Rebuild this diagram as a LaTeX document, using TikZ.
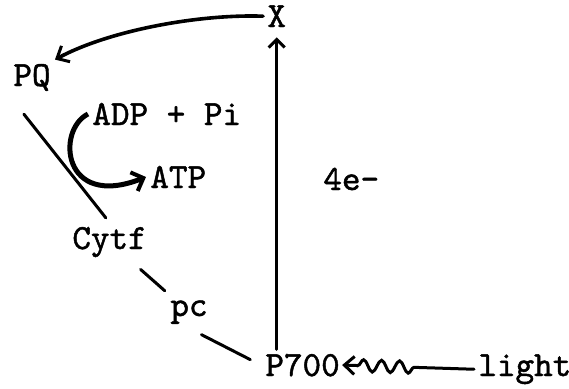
\documentclass[tikz,border=0pt]{standalone}
\usepackage{fontspec}
\newfontfamily\tw{lmmono10-regular.otf}[FakeBold=1.3]
\usetikzlibrary{arrows.meta,decorations.pathmorphing}

\begin{document}
\begin{tikzpicture}[x=0.5pt, y=-0.5pt,
  lbl/.style={anchor=base west, inner sep=2pt, font=\tw\fontsize{17.7}{20}\selectfont},
  conn/.style={line width=1.5pt, line cap=round},
  barb/.style={-{Straight Barb[length=5pt, width=9pt, line width=1.5pt]}}]
\useasboundingbox (0,0) rectangle (569,388);

% Carriers
\node[lbl] (x) at (263,27) {X};
\node[lbl] (pq) at (9,86) {PQ};
\node[lbl] (adp) at (88,125) {ADP + Pi};
\node[lbl] (atp) at (146,188) {ATP};
\node[lbl] (cytf) at (68,249) {Cytf};
\node[lbl] (pc) at (166,316) {pc};
\node[lbl] (p700) at (261,376) {P700};
\node[lbl] (light) at (474,376) {light};
\node[lbl] (elec) at (319,190) {4e-};

% X back to PQ
\draw[line width=1.8pt, line cap=round, barb] (x.west) .. controls (200,14) and (110,30) .. (pq.north east);

% Chain down to P700
\draw[conn, shorten <=12pt, shorten >=3pt] (pq.south west) -- (cytf.north);
\draw[conn, shorten <=6pt, shorten >=4pt] (cytf) -- (pc);
\draw[conn, shorten <=7pt, shorten >=6pt] (pc.south) -- (p700.west);

% Phosphorylation
\draw[line width=2.5pt, -{Straight Barb[length=5pt, width=10pt, line width=2pt]}]
  (adp.west) .. controls (56,130) and (62,210) .. (atp.west);

% P700 up to X
\draw[conn, -{Straight Barb[length=4pt, width=8pt, line width=1.5pt]}, shorten >=3pt]
  (x.south |- p700.north) -- (x.south);

% Light
\draw[conn, barb, shorten >=-1pt, decorate,
  decoration={snake, amplitude=3pt, segment length=9pt, pre length=30pt, post length=6pt}]
  (light.west) -- (p700.east);
\end{tikzpicture}
\end{document}
